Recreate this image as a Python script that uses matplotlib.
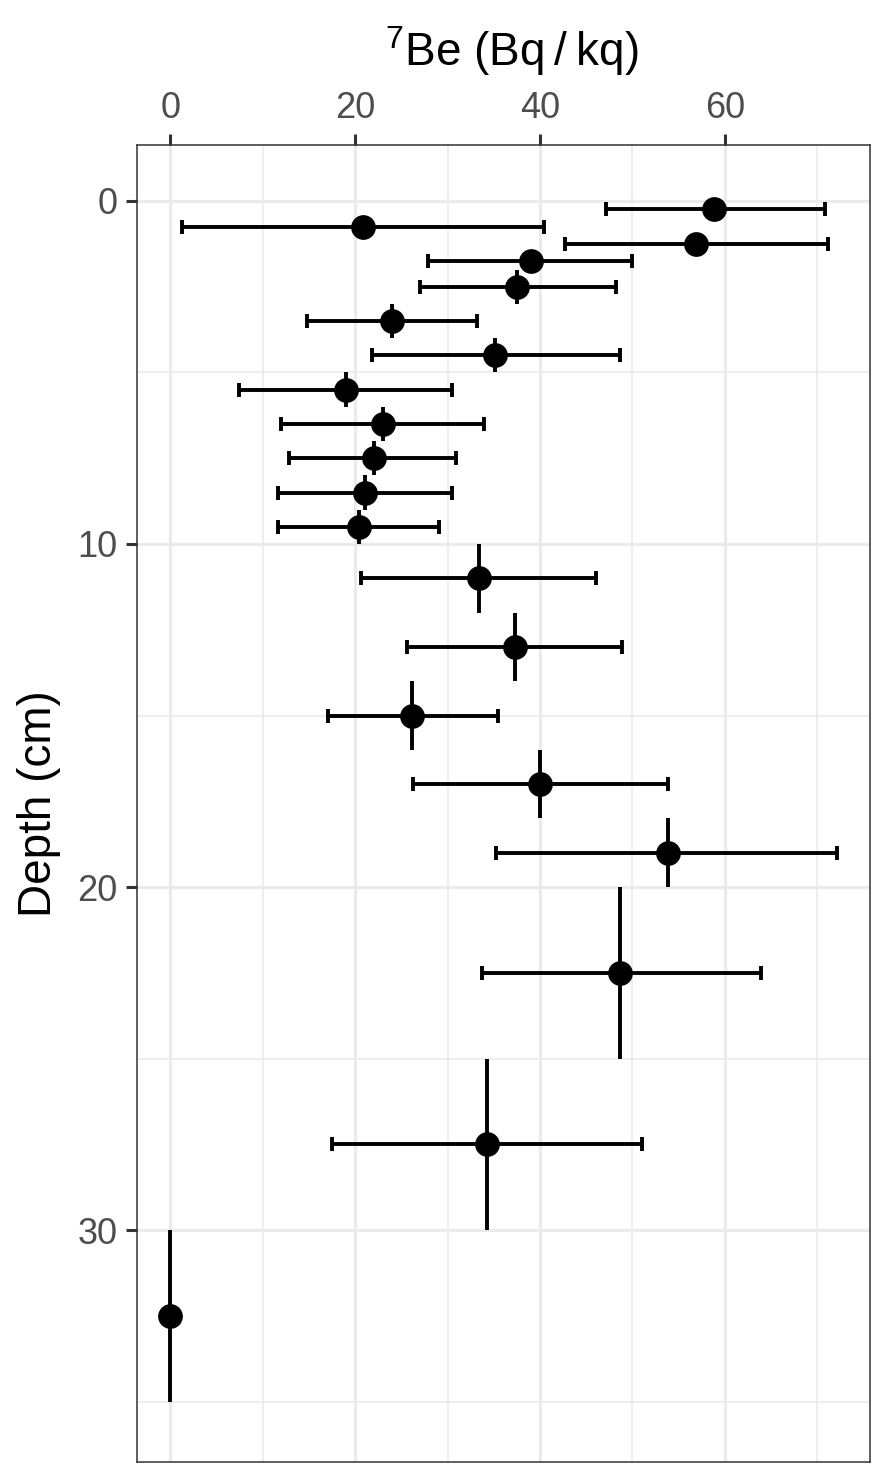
import matplotlib
matplotlib.use("Agg")
import matplotlib.pyplot as plt
import numpy as np

# depth intervals (cm) and 7Be activity with uncertainty range
depth = [0.25, 0.75, 1.25, 1.75, 2.5, 3.5, 4.5, 5.5, 6.5, 7.5, 8.5, 9.5,
         11, 13, 15, 17, 19, 22.5, 27.5, 32.5]
depth_top = [0, 0.5, 1, 1.5, 2, 3, 4, 5, 6, 7, 8, 9,
             10, 12, 14, 16, 18, 20, 25, 30]
depth_bot = [0.5, 1, 1.5, 2, 3, 4, 5, 6, 7, 8, 9, 10,
             12, 14, 16, 18, 20, 25, 30, 35]
be7 = [58.8, 20.9, 56.9, 39.0, 37.5, 24.0, 35.1, 19.0, 23.0, 22.0, 21.1, 20.4,
       33.4, 37.3, 26.2, 40.0, 53.8, 48.7, 34.3, 0]
be7_lo = [47.1, 1.3, 42.7, 27.9, 27.0, 14.8, 21.8, 7.4, 12.0, 12.8, 11.6, 11.6,
          20.6, 25.6, 17.1, 26.3, 35.2, 33.7, 17.5, 0]
be7_hi = [70.8, 40.4, 71.2, 49.9, 48.2, 33.2, 48.7, 30.5, 33.9, 30.9, 30.5, 29.1,
          46.1, 48.9, 35.5, 53.8, 72.1, 63.9, 51.0, 0]

plt.rcParams["font.family"] = ["Liberation Sans", "DejaVu Sans"]
plt.rcParams["mathtext.fontset"] = "custom"
plt.rcParams["mathtext.rm"] = "Liberation Sans"

x = np.array(be7)
y = np.array(depth)
xerr = [x - np.array(be7_lo), np.array(be7_hi) - x]
yerr = [y - np.array(depth_top), np.array(depth_bot) - y]

fig = plt.figure(figsize=(8.92, 14.81), dpi=100)
ax = fig.add_axes([0.1536, 0.0128, 0.8217, 0.8893])

ax.errorbar(x, y, xerr=xerr, fmt="none", ecolor="black", elinewidth=2.8,
            capsize=5, capthick=2.8, zorder=3)
ax.errorbar(x, y, yerr=yerr, fmt="none", ecolor="black", elinewidth=2.8,
            capsize=0, zorder=3)
ax.plot(x, y, "o", color="black", ms=16.8, zorder=4)

ax.set_xlim(-3.6, 75.7)
ax.set_ylim(36.76, -1.63)
ax.set_xticks([0, 20, 40, 60])
ax.set_xticks([10, 30, 50, 70], minor=True)
ax.set_yticks([0, 10, 20, 30])
ax.set_yticks([5, 15, 25, 35], minor=True)
ax.grid(which="major", color="#EBEBEB", lw=2.3, zorder=0)
ax.grid(which="minor", color="#EBEBEB", lw=1.2, zorder=0)
ax.set_axisbelow(True)

ax.xaxis.tick_top()
ax.xaxis.set_label_position("top")
ax.tick_params(which="major", length=8, width=2.2, color="#333333",
               labelsize=26, labelcolor="#4D4D4D", pad=6)
ax.tick_params(which="minor", length=0)
ax.tick_params(axis="x", which="both", bottom=False, top=True)
for sp in ax.spines.values():
    sp.set_color("#333333")
    sp.set_linewidth(1.1)

ax.set_xlabel("$\\mathrm{^{7}}$Be (Bq\u2009/\u2009kq)", fontsize=33, labelpad=18)
ax.xaxis.label.set_x(0.512)
ax.set_ylabel("Depth (cm)", fontsize=33, labelpad=12)

fig.savefig("out.png", dpi=100)
